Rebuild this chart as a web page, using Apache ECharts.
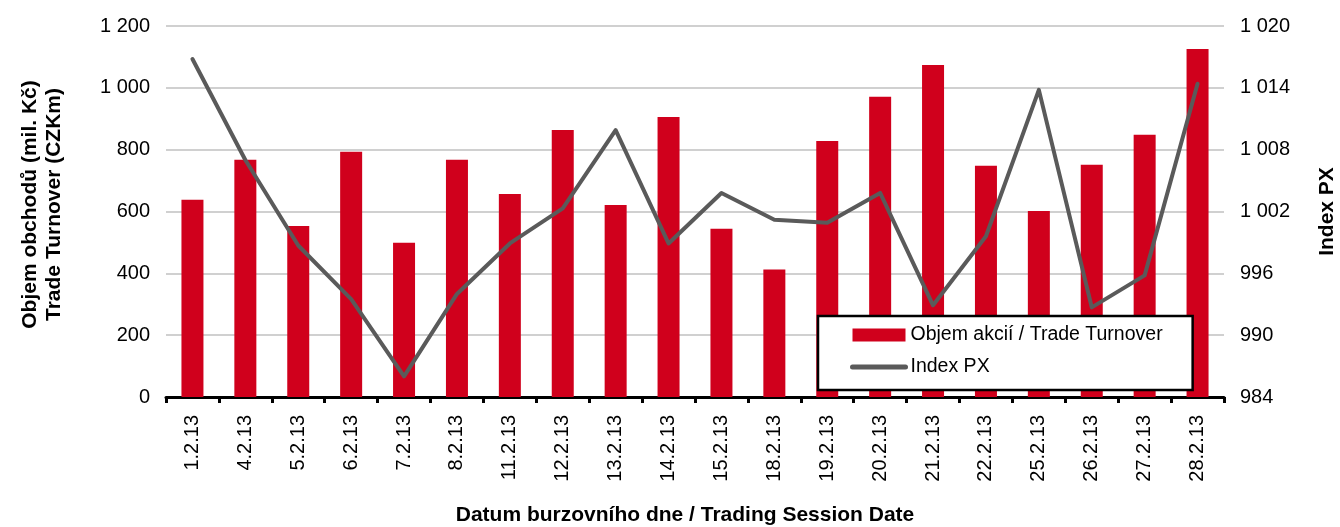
<!DOCTYPE html>
<html>
<head>
<meta charset="utf-8">
<script src="https://cdn.jsdelivr.net/npm/echarts@6/dist/echarts.min.js"></script>
<style>
html,body{margin:0;padding:0;background:#fff;}
#c{width:1340px;height:527px;}
</style>
</head>
<body>
<div id="c"></div>
<script>
const categories = ['1.2.13','4.2.13','5.2.13','6.2.13','7.2.13','8.2.13','11.2.13','12.2.13','13.2.13','14.2.13','15.2.13','18.2.13','19.2.13','20.2.13','21.2.13','22.2.13','25.2.13','26.2.13','27.2.13','28.2.13'];
const turnover = [638, 767, 553, 793, 499, 767, 657, 864, 621, 906, 544, 412, 828, 971, 1074, 748, 602, 751, 848, 1126];
const indexPX = [1016.8, 1007.0, 998.7, 993.5, 986.0, 994.0, 998.9, 1002.3, 1009.9, 998.9, 1003.8, 1001.2, 1000.9, 1003.8, 992.9, 999.6, 1013.8, 992.7, 995.8, 1014.4];
const seriesNames = ['Objem akcií / Trade Turnover', 'Index PX'];
const leftAxisName = 'Objem obchodů (mil. Kč)\nTrade Turnover (CZKm)';
const rightAxisName = 'Index PX';
const xAxisName = 'Datum burzovního dne / Trading Session Date';

const FONT = 'Liberation Sans, Arial, sans-serif';
const fmt = v => String(v).replace(/\B(?=(\d{3})+(?!\d))/g, ' ');

const chart = echarts.init(document.getElementById('c'), null, {renderer: 'canvas'});
chart.setOption({
  animation: false,
  backgroundColor: '#fff',
  textStyle: {fontFamily: FONT},
  grid: {left: 166, right: 116, top: 26, bottom: 130, containLabel: false, outerBoundsMode: 'none'},
  legend: {
    orient: 'vertical',
    left: 818, top: 316,
    padding: [9, 30, 13, 32],
    backgroundColor: '#fff',
    borderColor: '#000',
    borderWidth: 2.5,
    itemWidth: 53, itemHeight: 13, itemGap: 12,
    textStyle: {fontFamily: FONT, fontSize: 19.5, color: '#000', lineHeight: 20},
    data: [
      {name: seriesNames[0], icon: 'rect'},
      {name: seriesNames[1], itemStyle: {opacity: 0}, lineStyle: {width: 5, cap: 'round'}}
    ]
  },
  xAxis: {
    type: 'category',
    data: categories,
    boundaryGap: true,
    axisLine: {lineStyle: {color: '#000', width: 3}},
    axisTick: {show: true, length: 6, lineStyle: {color: '#000', width: 3}},
    axisLabel: {rotate: 90, fontSize: 20, color: '#000', fontFamily: FONT, margin: 18, interval: 0},
    name: xAxisName,
    nameLocation: 'middle',
    nameGap: 108,
    nameTextStyle: {fontSize: 21, fontWeight: 'bold', color: '#000', fontFamily: FONT, padding: [0, 20, 0, 0]}
  },
  yAxis: [
    {
      type: 'value', min: 0, max: 1200, interval: 200,
      axisLine: {show: false}, axisTick: {show: false},
      splitLine: {lineStyle: {color: '#c0c0c0', width: 1.5}},
      axisLabel: {fontSize: 20, color: '#000', fontFamily: FONT, margin: 16, formatter: fmt},
      name: leftAxisName,
      nameLocation: 'middle', nameRotate: 90, nameGap: 100,
      nameTextStyle: {fontSize: 21, fontWeight: 'bold', color: '#000', fontFamily: FONT, lineHeight: 24, padding: [0, 0, 0, 14]}
    },
    {
      type: 'value', min: 984, max: 1020, interval: 6,
      axisLine: {show: false}, axisTick: {show: false},
      splitLine: {show: false},
      axisLabel: {fontSize: 20, color: '#000', fontFamily: FONT, margin: 16, formatter: fmt},
      name: rightAxisName,
      nameLocation: 'middle', nameRotate: 90, nameGap: 93,
      nameTextStyle: {fontSize: 21, fontWeight: 'bold', color: '#000', fontFamily: FONT}
    }
  ],
  series: [
    {
      name: seriesNames[0], type: 'bar', yAxisIndex: 0,
      data: turnover, barWidth: 22,
      itemStyle: {color: '#d0001c'}
    },
    {
      name: seriesNames[1], type: 'line', yAxisIndex: 1,
      data: indexPX, symbol: 'none', showSymbol: false,
      lineStyle: {color: '#5a5a5a', width: 4, cap: 'round', join: 'round'},
      itemStyle: {color: '#5a5a5a'},
      z: 3
    }
  ]
});
</script>
</body>
</html>
